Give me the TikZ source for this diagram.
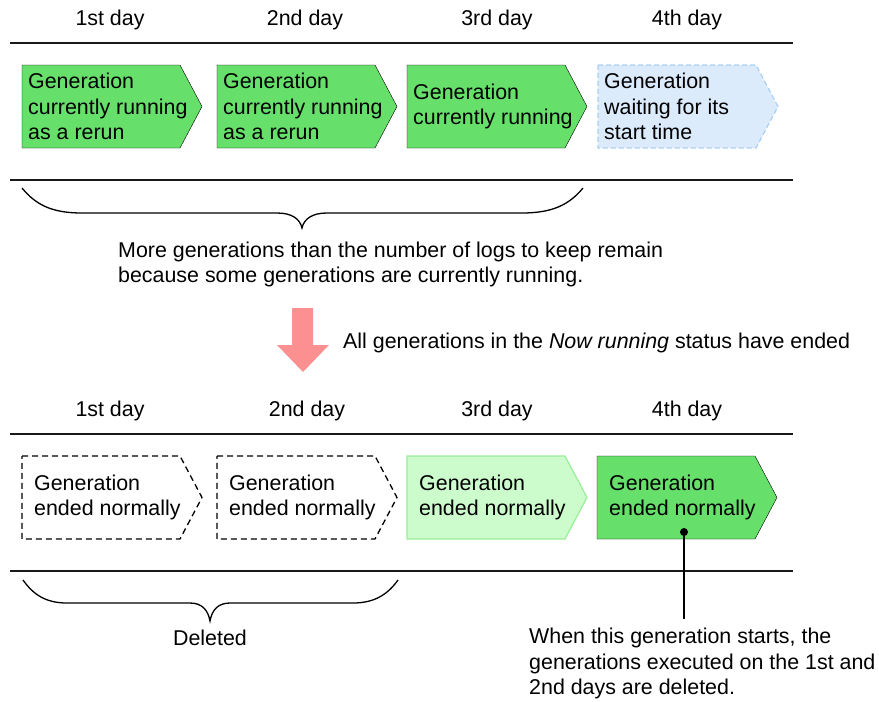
\documentclass[tikz,border=0pt]{standalone}
\usepackage{fontspec}
\setmainfont{Liberation Sans}
\usetikzlibrary{positioning}

\definecolor{rungreen}{HTML}{66E06A}
\definecolor{endgreen}{HTML}{CCFCCC}
\definecolor{endgreenline}{HTML}{99EE99}
\definecolor{waitblue}{HTML}{DCEBFC}
\definecolor{waitblueline}{HTML}{A8D0F5}
\definecolor{arrowpink}{HTML}{FC9090}

\tikzset{
    rule/.style={line width=1.4pt, black!90},
    bracket/.style={line width=1.3pt, black},
    runbox/.style={fill=rungreen},
    waitbox/.style={fill=waitblue, draw=waitblueline, line width=1.2pt, dash pattern=on 5pt off 3pt},
    delbox/.style={draw=black, line width=1.3pt, dash pattern=on 6pt off 4pt},
    endbox/.style={fill=endgreen, draw=endgreenline, line width=1.2pt},
    toptext/.style={align=left, inner ysep=0pt, inner xsep=6pt},
    bottext/.style={align=left, inner ysep=0pt, inner xsep=12pt},
    plaintext/.style={align=left, inner sep=0pt}
}

% name, left x, top y, shape style, text style, text
\newcommand{\genbox}[6]{%
    \draw[#4] (#2,#3) -- ++(158,0) -- ++(22,41.5) -- ++(-22,41.5) -- ++(-158,0) -- cycle;
    \node[#5, anchor=west] (#1) at (#2,#3+41.5) {#6};}

\begin{document}
\begin{tikzpicture}[x=1pt, y=-1pt, font=\fontsize{21.4}{25.5}\selectfont]

        \useasboundingbox (0,0) rectangle (879,702);

        %----- BEFORE: DAYS AND RULES -----
        \foreach \n/\lbl/\x in {1/1st/110, 2/2nd/305, 3/3rd/497, 4/4th/687} {
            \node[plaintext] (topday\n) at (\x,20) {\lbl\ day};
        }
        \draw[rule] (10,43) -- (793,43);
        \draw[rule] (10,180) -- (793,180);

        %----- BEFORE: GENERATIONS -----
        \genbox{topgenA}{22}{65}{runbox}{toptext}{Generation\\currently running\\as a rerun}
        \genbox{topgenB}{217}{65}{runbox}{toptext}{Generation\\currently running\\as a rerun}
        \genbox{topgenC}{407}{65}{runbox}{toptext}{Generation\\currently running}
        \genbox{topgenD}{598}{65}{waitbox}{toptext}{Generation\\waiting for its\\start time}

        %----- BRACE OVER THE KEPT GENERATIONS -----
        \draw[bracket] (22,188) .. controls (36,205) and (52,213) .. (82,213)
            -- (277,213) .. controls (292,213) and (300,219) .. (302,228)
            .. controls (304,219) and (312,213) .. (327,213)
            -- (522,213) .. controls (552,213) and (569,205) .. (583,188);
        \node[plaintext, anchor=west] (keepnote) at (118,264.5)
            {More generations than the number of logs to keep remain\\because some generations are currently running.};

        %----- PINK ARROW -----
        \fill[arrowpink] (292,308) -- (313,308) -- (313,345) -- (329,345)
            -- (303,372) -- (277,345) -- (292,345) -- cycle;
        \node[plaintext, anchor=west] (endnote) at (343,343)
            {All generations in the \textit{Now running} status have ended};

        %----- AFTER: DAYS AND RULES -----
        \foreach \n/\lbl/\x in {1/1st/110, 2/2nd/307, 3/3rd/497, 4/4th/687} {
            \node[plaintext] (botday\n) at (\x,411) {\lbl\ day};
        }
        \draw[rule] (10,434) -- (793,434);
        \draw[rule] (10,571) -- (793,571);

        %----- AFTER: GENERATIONS -----
        \genbox{botgenA}{22}{456}{delbox}{bottext}{Generation\\ended normally}
        \genbox{botgenB}{217}{456}{delbox}{bottext}{Generation\\ended normally}
        \genbox{botgenC}{407}{456}{endbox}{bottext}{Generation\\ended normally}
        \genbox{botgenD}{597}{456}{runbox}{bottext}{Generation\\ended normally}

        %----- BRACE OVER THE DELETED GENERATIONS -----
        \draw[bracket] (23,580) .. controls (33,594) and (45,603) .. (67,603)
            -- (190,603) .. controls (202,603) and (208,610) .. (210,621)
            .. controls (212,610) and (218,603) .. (230,603)
            -- (353,603) .. controls (375,603) and (388,594) .. (398,580);
        \node[plaintext] (delnote) at (210,638) {Deleted};

        %----- LEADER TO THE NOTE -----
        \coordinate (dot) at (684,532);
        \coordinate (leaderend) at (684,619);
        \fill (dot) circle (4);
        \draw[line width=1.4pt] (dot) -- (leaderend);
        \node[plaintext, anchor=north west] (startnote) at (529,628)
            {When this generation starts, the\\generations executed on the 1st and\\2nd days are deleted.};

\end{tikzpicture}
\end{document}
